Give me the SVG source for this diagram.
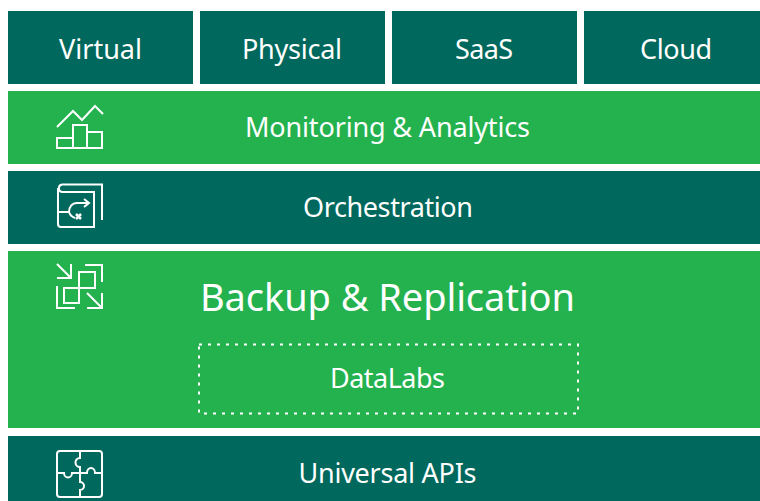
<svg xmlns="http://www.w3.org/2000/svg" width="760" height="501" viewBox="0 0 760 501">
<style>
.d{fill:#00685c}.g{fill:#24b24f}
text{fill:#fff;font-family:"Noto Sans","Open Sans",sans-serif;text-anchor:middle;font-size:27px}
.i{fill:none;stroke:#fff;stroke-width:2}
</style>
<rect width="760" height="501" fill="#fff"/>
<g id="virtual"><rect class="d" x="8" y="11" width="185" height="73"/><text x="100.500" y="59" textLength="83">Virtual</text></g>
<g id="physical"><rect class="d" x="200" y="11" width="185" height="73"/><text x="292" y="59" textLength="100">Physical</text></g>
<g id="saas"><rect class="d" x="392" y="11" width="185" height="73"/><text x="484" y="59" textLength="58">SaaS</text></g>
<g id="cloud"><rect class="d" x="584" y="11" width="176" height="73"/><text x="676" y="59" textLength="72">Cloud</text></g>
<g id="monitoring"><rect class="g" x="8" y="91" width="752" height="73"/>
<path class="i" d="M57 127L73 111L82 120L95 106L103 114M57 138H73V148H57ZM73 125H87V148H73ZM87 132H102V148H87Z"/>
<text x="387.500" y="137" textLength="285">Monitoring &amp; Analytics</text></g>
<g id="orchestration"><rect class="d" x="8" y="171" width="752" height="73"/>
<path class="i" d="M62 184.500H102V220M62 184.500A3.800 3.800 0 0 0 62 192H94V227H61A3 3 0 0 1 58 224V188M58 212H69C69 207 72 203 77 203H88M84 199L89 203L84 207M69 212C70 215 72 217 75 218"/>
<path d="M76 214L81 219M81 214L76 219" fill="none" stroke="#fff" stroke-width="2.500"/>
<text x="388" y="217" textLength="170">Orchestration</text></g>
<g id="backup"><rect class="g" x="8" y="251" width="752" height="177"/>
<path class="i" d="M57 264L71 278M71 264V278H57M85 265H102V282M79 272H95V288H79ZM64 288H79V303H64ZM57 286V308H75M87 293L102 308M102 293V308H87"/>
<text x="387.500" y="311" textLength="375" style="font-size:38px">Backup &amp; Replication</text>
<g id="datalabs"><rect x="199" y="344.500" width="379" height="69" fill="none" stroke="#fff" stroke-width="2" stroke-dasharray="3 6"/><text x="387.500" y="388" textLength="115">DataLabs</text></g></g>
<g id="apis"><rect class="d" x="8" y="436" width="752" height="65"/>
<path class="i" d="M60 451H99A3 3 0 0 1 102 454V494A3 3 0 0 1 99 497H60A3 3 0 0 1 57 494V454A3 3 0 0 1 60 451ZM80 451V458A4.500 4.500 0 0 0 80 467V473M57 473H64A4 4.500 0 0 0 72 473H87A4 5 0 0 1 95 473H102M80 473V482A4 4 0 0 1 80 490V497"/>
<text x="387.500" y="483" textLength="178">Universal APIs</text></g>
</svg>
